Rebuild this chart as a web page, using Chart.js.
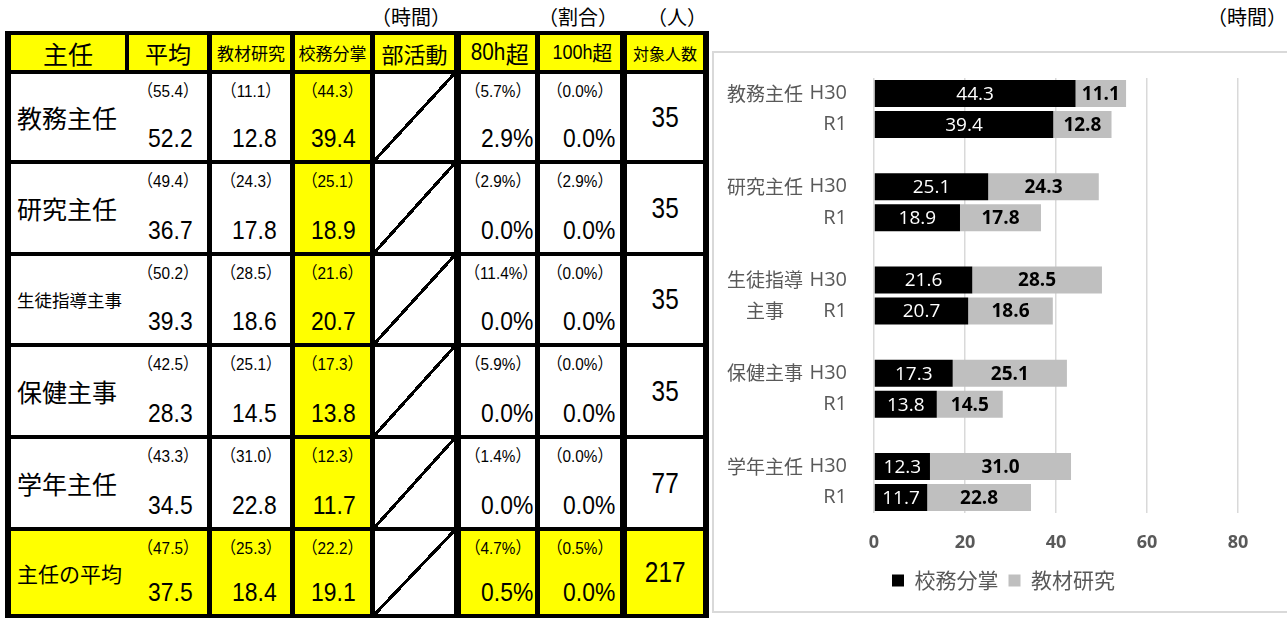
<!DOCTYPE html>
<html lang="ja">
<head>
<meta charset="utf-8">
<script src="https://cdn.jsdelivr.net/npm/chart.js@4.4.1/dist/chart.umd.min.js"></script>
<style>
  html, body { margin: 0; padding: 0; background: #fff; width: 1287px; height: 618px; overflow: hidden; }
  body { position: relative; font-family: "Liberation Sans", "Noto Sans CJK JP", sans-serif; color: #000; }
  .unit { position: absolute; top: 3px; width: 100px; text-align: center; font-family: "Noto Sans CJK JP"; font-size: 20px; line-height: 28px; }
  #tbl { position: absolute; left: 5px; top: 31px; width: 704px; height: 587px; background: #000; }
  .cell { position: absolute; background: #fff; overflow: hidden; }
  .yel { background: #ffff00; }
  .mid { display: flex; align-items: center; justify-content: center; white-space: nowrap; }
  .name { display: flex; align-items: center; padding-left: 6px; font-family: "Noto Sans CJK JP"; white-space: nowrap; }
  .prev { position: absolute; left: 0; right: 0; top: 7px; text-align: center; font-size: 17px; line-height: 22px; transform: scaleX(0.9); white-space: nowrap; }
  .now { position: absolute; bottom: 7px; font-size: 26px; line-height: 30px; transform: scaleX(0.88); transform-origin: right center; white-space: nowrap; }
  .cnt { display: inline-block; font-size: 29px; transform: scaleX(0.84); }
  .hnum { display: inline-block; transform: scaleX(0.9); transform-origin: right center; }
  .slash { background-image: linear-gradient(to bottom right, transparent calc(50% - 1.6px), #000 calc(50% - 1.6px), #000 calc(50% + 1.6px), transparent calc(50% + 1.6px)); }
  #frame { position: absolute; left: 712px; top: 51px; width: 620px; height: 562px; border: 2px solid #d9d9d9; box-sizing: border-box; }
  #wrap { position: absolute; left: 712px; top: 52px; width: 575px; height: 561px; }
</style>
</head>
<body>
<div class="unit" style="left:361px">（時間）</div>
<div class="unit" style="left:528px">（割合）</div>
<div class="unit" style="left:627px">（人）</div>
<div class="unit" style="left:1197px">（時間）</div>
<div id="tbl"></div>
<div id="frame"></div>
<div id="wrap"><canvas id="chart" width="575" height="561"></canvas></div>
<script>
// ---------- Data ---------- //
const headers = ['主任', '平均', '教材研究', '校務分掌', '部活動', '80h超', '100h超', '対象人数'];
const rowNames = ['教務主任', '研究主任', '生徒指導主事', '保健主事', '学年主任', '主任の平均'];

// (H30) values on top, R1 values below
const avgPrev = [55.4, 49.4, 50.2, 42.5, 43.3, 47.5];
const avgNow = [52.2, 36.7, 39.3, 28.3, 34.5, 37.5];
const kyozaiPrev = [11.1, 24.3, 28.5, 25.1, 31.0, 25.3];
const kyozaiNow = [12.8, 17.8, 18.6, 14.5, 22.8, 18.4];
const koumuPrev = [44.3, 25.1, 21.6, 17.3, 12.3, 22.2];
const koumuNow = [39.4, 18.9, 20.7, 13.8, 11.7, 19.1];
const over80Prev = [5.7, 2.9, 11.4, 5.9, 1.4, 4.7];
const over80Now = [2.9, 0.0, 0.0, 0.0, 0.0, 0.5];
const over100Prev = [0.0, 2.9, 0.0, 0.0, 0.0, 0.5];
const over100Now = [0.0, 0.0, 0.0, 0.0, 0.0, 0.0];
const headcount = [35, 35, 35, 35, 77, 217];

// chart
const groupLines = [['教務主任'], ['研究主任'], ['生徒指導', '主事'], ['保健主事'], ['学年主任']];
const years = ['H30', 'R1'];
const seriesNames = ['校務分掌', '教材研究'];
const xTicks = [0, 20, 40, 60, 80];

// ---------- Table ---------- //
const colX = [[6, 120], [124, 202], [207, 285], [290, 365], [370, 449], [456, 530], [535, 615], [622, 698]];
const rowY = [[4, 39], [43, 129], [133, 221], [225, 312], [316, 404], [408, 496], [500, 583]];
const headSize = [25, 23, 17, 17, 22, 23, 20, 16];
const nameSize = [25, 25, 17.5, 25, 25, 21];
const nowPad = [0, 14, 13, 14, 0, 2, 5, 0];

const tbl = document.getElementById('tbl');

function addCell(c, r, cls) {
  const d = document.createElement('div');
  d.className = 'cell ' + cls;
  d.style.left = colX[c][0] + 'px';
  d.style.width = (colX[c][1] - colX[c][0]) + 'px';
  d.style.top = rowY[r][0] + 'px';
  d.style.height = (rowY[r][1] - rowY[r][0]) + 'px';
  tbl.appendChild(d);
  return d;
}

headers.forEach((h, c) => {
  const d = addCell(c, 0, 'yel mid');
  d.style.fontSize = headSize[c] + 'px';
  d.style.fontFamily = '"Noto Sans CJK JP"';
  const m = h.match(/^(\d+h)(.*)$/);
  if (m) {
    d.innerHTML = `<span class="hnum" style="font-family:'Liberation Sans'">${m[1]}</span>${m[2]}`;
  } else {
    d.textContent = h;
  }
});

const pairCols = [
  [1, avgPrev, avgNow, ''],
  [2, kyozaiPrev, kyozaiNow, ''],
  [3, koumuPrev, koumuNow, ''],
  [5, over80Prev, over80Now, '%'],
  [6, over100Prev, over100Now, '%']
];

rowNames.forEach((name, i) => {
  const r = i + 1;
  const last = i === rowNames.length - 1;
  const n = addCell(0, r, 'name' + (last ? ' yel' : ''));
  n.style.fontSize = nameSize[i] + 'px';
  n.textContent = name;

  pairCols.forEach(([c, prev, now, suf]) => {
    const d = addCell(c, r, (c === 3 || last) ? 'yel' : '');
    d.innerHTML = `<div class="prev">（${prev[i].toFixed(1)}${suf}）</div>` +
      `<div class="now" style="right:${nowPad[c]}px">${now[i].toFixed(1)}${suf}</div>`;
  });

  addCell(4, r, 'slash');

  const hc = addCell(7, r, 'mid' + (last ? ' yel' : ''));
  hc.innerHTML = `<span class="cnt">${headcount[i]}</span>`;
});

// ---------- Chart ---------- //
const labels = [];
const koumuData = [];
const kyozaiData = [];
groupLines.forEach((g, i) => {
  labels.push(years[0], years[1]);
  koumuData.push(koumuPrev[i], koumuNow[i]);
  kyozaiData.push(kyozaiPrev[i], kyozaiNow[i]);
  if (i < groupLines.length - 1) {
    labels.push('');
    koumuData.push(null);
    kyozaiData.push(null);
  }
});

const cjk = '"Noto Sans CJK JP", sans-serif';
const latin = '"Open Sans", sans-serif';

// values drawn in the middle of each bar piece
const barLabels = {
  id: 'barLabels',
  afterDatasetsDraw(chart) {
    const ctx = chart.ctx;
    chart.data.datasets.forEach((ds, i) => {
      chart.getDatasetMeta(i).data.forEach((bar, j) => {
        const v = ds.data[j];
        if (v == null) return;
        const p = bar.getProps(['x', 'y', 'base'], true);
        ctx.save();
        ctx.font = ds.labelFont;
        ctx.fillStyle = ds.labelColor;
        ctx.textAlign = 'center';
        ctx.textBaseline = 'middle';
        ctx.fillText(v.toFixed(1), (p.x + p.base) / 2, p.y + 1);
        ctx.restore();
      });
    });
  }
};

// outer category labels (教務主任 ...)
const groupLabels = {
  id: 'groupLabels',
  afterDraw(chart) {
    const ctx = chart.ctx;
    const y = chart.scales.y;
    ctx.save();
    ctx.font = '19px ' + cjk;
    ctx.fillStyle = '#595959';
    ctx.textBaseline = 'middle';
    groupLines.forEach((lines, g) => {
      const left = 15;
      const w0 = ctx.measureText(lines[0]).width;
      lines.forEach((t, k) => {
        const py = y.getPixelForValue(g * 3 + k);
        if (lines.length > 1) {
          ctx.textAlign = 'center';
          ctx.fillText(t, left + w0 / 2, py);
        } else {
          ctx.textAlign = 'left';
          ctx.fillText(t, left, py);
        }
      });
    });
    ctx.restore();
  }
};

new Chart(document.getElementById('chart'), {
  type: 'bar',
  data: {
    labels: labels,
    datasets: [
      {
        label: seriesNames[0],
        data: koumuData,
        backgroundColor: '#000000',
        labelColor: '#ffffff',
        labelFont: '19px ' + latin
      },
      {
        label: seriesNames[1],
        data: kyozaiData,
        backgroundColor: '#bfbfbf',
        labelColor: '#000000',
        labelFont: 'bold 19px ' + latin
      }
    ]
  },
  options: {
    indexAxis: 'y',
    responsive: false,
    animation: false,
    categoryPercentage: 1,
    barPercentage: 0.87,
    layout: { padding: { left: 57, right: 49, top: 26, bottom: 12 } },
    plugins: {
      tooltip: { enabled: false },
      legend: {
        position: 'bottom',
        labels: {
          boxWidth: 12,
          boxHeight: 12,
          padding: 10,
          color: '#595959',
          font: { family: cjk, size: 21 }
        }
      }
    },
    scales: {
      x: {
        stacked: true,
        min: xTicks[0],
        max: xTicks[xTicks.length - 1],
        afterBuildTicks(s) { s.ticks = xTicks.map(v => ({ value: v })); },
        ticks: { color: '#595959', padding: 19, font: { family: latin, size: 18, weight: 'bold' } },
        grid: { color: '#d9d9d9', lineWidth: 1.5, drawTicks: false },
        border: { display: false },
        afterFit(s) { s.height = 47; s.paddingLeft = 0; s.paddingRight = 0; }
      },
      y: {
        stacked: true,
        ticks: { color: '#595959', padding: 27, autoSkip: false, font: { family: latin, size: 20 } },
        grid: { display: false, drawTicks: false },
        border: { display: false },
        afterFit(s) { s.width = 105; s.paddingTop = 0; s.paddingBottom = 0; }
      }
    }
  },
  plugins: [barLabels, groupLabels]
});
</script>
</body>
</html>
